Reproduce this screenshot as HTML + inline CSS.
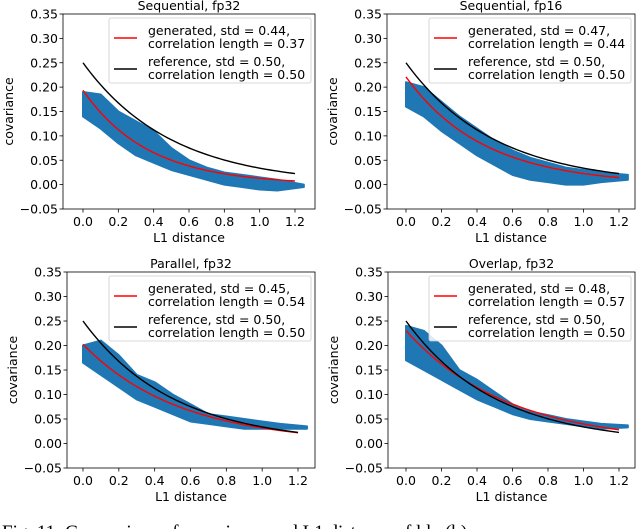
<!DOCTYPE html>
<html><head><meta charset="utf-8"><style>
body{margin:0;background:#fff;width:640px;height:529px;overflow:hidden}
svg{display:block;font-family:"DejaVu Sans","Liberation Sans",sans-serif}
</style></head><body>
<svg id="fig" width="640" height="529" viewBox="0 0 640 529">
<text x="2" y="538" font-family="Liberation Serif, serif" font-size="19" fill="#000">Fig. 11: Comparison of covariance and L1 distance of ldp (b)</text>
</svg>
<script>
const titles=["Sequential, fp32","Sequential, fp16","Parallel, fp32","Overlap, fp32"];
const genStd=[0.44,0.47,0.45,0.48];
const genLen=[0.37,0.44,0.54,0.57];
const refStd=[0.50,0.50,0.50,0.50];
const refLen=[0.50,0.50,0.50,0.50];
const yTicks=[-0.05,0.00,0.05,0.10,0.15,0.20,0.25,0.30,0.35];
const xTicks=[0.0,0.2,0.4,0.6,0.8,1.0,1.2];
const bandX=[0,0.1,0.2,0.3,0.4,0.5,0.6,0.7,0.8,0.9,1.0,1.1,1.25];
const bandLo=[
[0.14,0.115,0.085,0.06,0.045,0.03,0.02,0.01,0.0,-0.005,-0.01,-0.012,-0.005],
[0.16,0.14,0.11,0.085,0.06,0.04,0.02,0.01,0.005,0.0,0.0,0.005,0.01],
[0.165,0.14,0.115,0.09,0.075,0.06,0.045,0.04,0.035,0.03,0.03,0.03,0.03],
[0.17,0.15,0.13,0.11,0.09,0.075,0.06,0.05,0.045,0.04,0.035,0.03,0.033]];
const bandHi=[
[0.19,0.185,0.15,0.13,0.11,0.075,0.05,0.035,0.025,0.02,0.015,0.01,0.0],
[0.21,0.2,0.17,0.14,0.115,0.09,0.07,0.055,0.045,0.035,0.03,0.025,0.02],
[0.2,0.21,0.18,0.14,0.125,0.1,0.08,0.06,0.055,0.05,0.045,0.04,0.035],
[0.24,0.23,0.2,0.15,0.13,0.105,0.08,0.065,0.058,0.05,0.045,0.04,0.037]];
const boxes=[
{l:63,r:315,x0:83,x1:295,t:14,b:209},
{l:387,r:635,x0:406,x1:619,t:14,b:209},
{l:67,r:315,x0:83,x1:298,t:272,b:468},
{l:388,r:635,x0:406,x1:619,t:272,b:468}];
const NS="http://www.w3.org/2000/svg";
const svg=document.getElementById('fig');
function mk(tag,attrs,parent){const e=document.createElementNS(NS,tag);for(const k in attrs)e.setAttribute(k,attrs[k]);(parent||svg).appendChild(e);return e;}
boxes.forEach((B,i)=>{
  const g=mk('g',{});
  
  
  const sx=v=>B.x0+(B.x1-B.x0)*v/1.2;
  const sy=v=>B.t+(B.b-B.t)*(0.35-v)/0.4;
  let pts=bandX.map((x,j)=>sx(x)+','+sy(bandHi[i][j]));
  pts=pts.concat(bandX.map((x,j)=>sx(x)+','+sy(bandLo[i][j])).reverse());
  const band=mk('polygon',{points:pts.join(' '),fill:'#1f77b4',stroke:'#1f77b4','stroke-width':2,'stroke-linejoin':'round'},g);
  
  
  function curve(s,L,col,name){
    let d='';for(let k=0;k<=60;k++){const x=1.2*k/60;const y=s*s*Math.exp(-x/L);d+=(k?'L':'M')+sx(x).toFixed(2)+','+sy(y).toFixed(2);}
    const p=mk('path',{d:d,fill:'none',stroke:col,'stroke-width':1.4},g);
    
    
  }
  curve(genStd[i],genLen[i],'#ff0000','generated-line');
  curve(refStd[i],refLen[i],'#000000','reference-line');
  const fr=mk('rect',{x:B.l,y:B.t,width:B.r-B.l,height:B.b-B.t,fill:'none',stroke:'#000','stroke-width':0.8},g);
  
  
  yTicks.forEach(v=>{
    const y=sy(v);
    mk('line',{x1:B.l-3.5,x2:B.l,y1:y,y2:y,stroke:'#000','stroke-width':0.8},g);
    const t=mk('text',{x:B.l-5,y:y+4.5,'text-anchor':'end','font-size':12.5},g);
    t.textContent=(v<0?'\u2212':'')+Math.abs(v).toFixed(2);
    
    
  });
  xTicks.forEach(v=>{
    const x=sx(v);
    mk('line',{x1:x,x2:x,y1:B.b,y2:B.b+3.5,stroke:'#000','stroke-width':0.8},g);
    const t=mk('text',{x:x,y:B.b+17,'text-anchor':'middle','font-size':12.5},g);
    t.textContent=v.toFixed(1);
    
    
  });
  const xl=mk('text',{x:(B.l+B.r)/2,y:B.b+33,'text-anchor':'middle','font-size':12.5},g);
  xl.textContent='L1 distance';
  
  
  const yc=(B.t+B.b)/2;
  const ylx=B.l-50;
  const yl=mk('text',{x:ylx,y:yc,'text-anchor':'middle','font-size':12.5,transform:`rotate(-90 ${ylx} ${yc})`},g);
  yl.textContent='covariance';
  
  
  const ti=mk('text',{x:(B.l+B.r)/2,y:B.t-4,'text-anchor':'middle','font-size':12.5},g);
  ti.textContent=titles[i];
  
  
  const lg=mk('g',{},g);
  
  
  const lx=B.r-206,ly=B.t+4;
  mk('rect',{x:lx,y:ly,width:202,height:65,rx:2,fill:'#fff','fill-opacity':0.85,stroke:'#ccc','stroke-width':0.8},lg);
  const entries=[[`generated, std = ${genStd[i].toFixed(2)},`,`correlation length = ${genLen[i].toFixed(2)}`,'#ff0000'],
                 [`reference, std = ${refStd[i].toFixed(2)},`,`correlation length = ${refLen[i].toFixed(2)}`,'#000']];
  entries.forEach((e,k)=>{
    const cy=ly+20+k*31;
    const le=mk('g',{},lg);
    
    
    mk('line',{x1:lx+5,x2:lx+28,y1:cy,y2:cy,stroke:e[2],'stroke-width':1.5},le);
    const t1=mk('text',{x:lx+39,y:cy-3,'font-size':12.5},le);t1.textContent=e[0];
    const t2=mk('text',{x:lx+39,y:cy+10,'font-size':12.5},le);t2.textContent=e[1];
  });
});
</script>
</body></html>
